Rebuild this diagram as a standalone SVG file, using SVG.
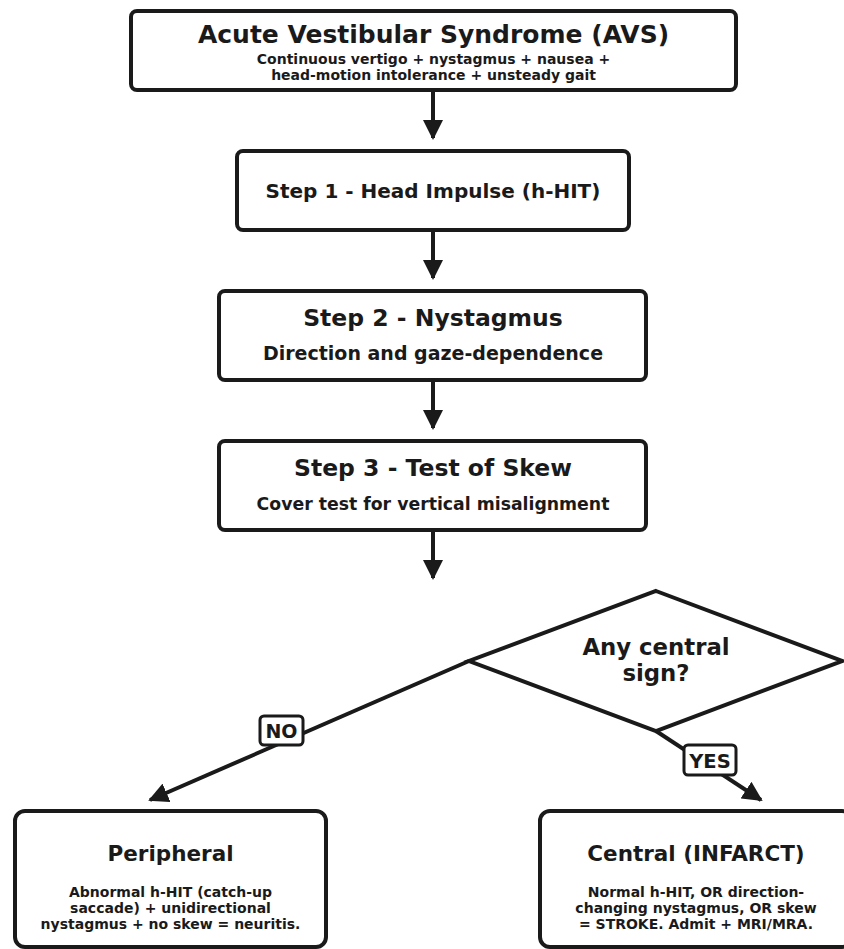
<svg xmlns="http://www.w3.org/2000/svg" width="844" height="949" viewBox="0 0 844 949">
<defs>
<style>
.box{fill:#fff;stroke:#1a1a1a;stroke-width:4}
.edge{fill:none;stroke:#1a1a1a;stroke-width:4}
text{font-family:"DejaVu Sans","Liberation Sans",sans-serif;font-weight:bold;fill:#1a1a1a;text-anchor:middle}
.lbl{fill:#fff;stroke:#1a1a1a;stroke-width:3}
</style>
<marker id="ah" viewBox="0 0 10 10" refX="9" refY="5" markerWidth="5" markerHeight="5" markerUnits="strokeWidth" orient="auto">
<path d="M0,0 L10,5 L0,10 z" fill="#1a1a1a"/>
</marker>
</defs>
<rect width="844" height="949" fill="#fff"/>
<g id="connectors">
<line class="edge" x1="433" y1="92" x2="433" y2="138" marker-end="url(#ah)"/>
<line class="edge" x1="433" y1="232" x2="433" y2="278" marker-end="url(#ah)"/>
<line class="edge" x1="433" y1="382" x2="433" y2="428" marker-end="url(#ah)"/>
<line class="edge" x1="433" y1="532" x2="433" y2="578" marker-end="url(#ah)"/>
<line class="edge" x1="469" y1="661" x2="150" y2="800" marker-end="url(#ah)"/>
<line class="edge" x1="656" y1="731" x2="761" y2="800" marker-end="url(#ah)"/>
<g id="label-no">
<rect class="lbl" x="260" y="716" width="43" height="29" rx="4"/>
<text x="281.5" y="738" font-size="19">NO</text>
</g>
<g id="label-yes">
<rect class="lbl" x="684" y="745" width="52" height="30" rx="4"/>
<text x="710" y="767.5" font-size="19.5">YES</text>
</g>
</g>
<g id="avs">
<rect class="box" x="131" y="11" width="605" height="79" rx="6"/>
<text x="433.5" y="43" font-size="25">Acute Vestibular Syndrome (AVS)</text>
<text x="433.5" y="64" font-size="14">Continuous vertigo + nystagmus + nausea +</text>
<text x="433.5" y="80" font-size="14">head-motion intolerance + unsteady gait</text>
</g>
<g id="step1">
<rect class="box" x="237" y="151" width="392" height="79" rx="6"/>
<text x="433" y="197.5" font-size="20">Step 1 - Head Impulse (h-HIT)</text>
</g>
<g id="step2">
<rect class="box" x="219" y="291" width="427" height="89" rx="6"/>
<text x="433" y="326" font-size="23.5">Step 2 - Nystagmus</text>
<text x="433" y="360" font-size="19">Direction and gaze-dependence</text>
</g>
<g id="step3">
<rect class="box" x="219" y="441" width="427" height="89" rx="6"/>
<text x="433" y="476" font-size="23.5">Step 3 - Test of Skew</text>
<text x="433" y="509.5" font-size="17.3">Cover test for vertical misalignment</text>
</g>
<g id="decision">
<polygon class="box" points="656,591 842,661 656,731 469,661"/>
<text x="656" y="655" font-size="22.8">Any central</text>
<text x="656" y="681" font-size="22.8">sign?</text>
</g>
<g id="peripheral">
<rect class="box" x="15" y="811" width="311" height="136" rx="10"/>
<text x="170.5" y="861" font-size="21.5">Peripheral</text>
<text x="170.5" y="897" font-size="14">Abnormal h-HIT (catch-up</text>
<text x="170.5" y="913" font-size="14">saccade) + unidirectional</text>
<text x="170.5" y="929" font-size="14">nystagmus + no skew = neuritis.</text>
</g>
<g id="central">
<rect class="box" x="540" y="811" width="312" height="136" rx="10"/>
<text x="696" y="861" font-size="21.5">Central (INFARCT)</text>
<text x="696" y="897" font-size="14">Normal h-HIT, OR direction-</text>
<text x="696" y="913" font-size="14">changing nystagmus, OR skew</text>
<text x="696" y="929" font-size="14">= STROKE. Admit + MRI/MRA.</text>
</g>
</svg>
